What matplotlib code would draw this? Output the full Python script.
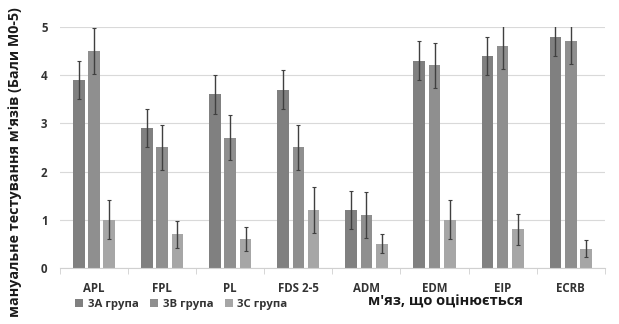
import matplotlib
matplotlib.use("Agg")
import matplotlib.pyplot as plt
from matplotlib import font_manager as fm
import numpy as np

bold_path = None
for f in fm.fontManager.ttflist:
    if f.fname.endswith("OpenSans-Bold.ttf"):
        bold_path = f.fname
        break
if bold_path:
    BP = lambda size: fm.FontProperties(fname=bold_path, size=size)
else:
    BP = lambda size: fm.FontProperties(family="DejaVu Sans", weight="bold", size=size)

categories = ["APL", "FPL", "PL", "FDS 2-5", "ADM", "EDM", "EIP", "ECRB"]
series_names = ["3A група", "3B група", "3C група"]
vals_a = [3.9, 2.9, 3.6, 3.7, 1.2, 4.3, 4.4, 4.8]
vals_b = [4.5, 2.5, 2.7, 2.5, 1.1, 4.2, 4.6, 4.7]
vals_c = [1.0, 0.7, 0.6, 1.2, 0.5, 1.0, 0.8, 0.4]
err_a = [0.4, 0.4, 0.4, 0.4, 0.4, 0.4, 0.4, 0.4]
err_b = [0.47, 0.47, 0.47, 0.47, 0.47, 0.47, 0.47, 0.47]
err_c = [0.4, 0.28, 0.25, 0.48, 0.2, 0.4, 0.32, 0.17]
colors = ["#808080", "#8f8f8f", "#a6a6a6"]

fig = plt.figure(figsize=(6.19, 3.24), dpi=100)
ax = fig.add_axes([0.097, 0.173, 0.880, 0.744])

x = np.arange(len(categories))
w = 0.172
step = 0.224
for i, (v, e, c, n) in enumerate(zip([vals_a, vals_b, vals_c], [err_a, err_b, err_c], colors, series_names)):
    ax.bar(x + (i - 1) * step, v, width=w, color=c, label=n, zorder=2,
           yerr=e, error_kw=dict(ecolor="#404040", elinewidth=1, capsize=1.5, capthick=0.8, zorder=3))

ax.set_ylim(0, 5)
ax.set_xlim(-0.5, len(categories) - 0.5)
ax.set_yticks([0, 1, 2, 3, 4, 5])
ax.yaxis.grid(True, color="#d9d9d9", linewidth=0.8, zorder=0)
ax.set_axisbelow(True)
for s in ["top", "right", "left"]:
    ax.spines[s].set_visible(False)
ax.spines["bottom"].set_color("#d0d0d0")
ax.set_xticks(x)
ax.set_xticklabels(categories, color="#333333")
for t in ax.get_xticklabels():
    t.set_fontproperties(BP(8.3))
ax.set_xticks(np.arange(len(categories) + 1) - 0.5, minor=True)
ax.tick_params(axis="x", which="major", length=0, pad=10)
ax.tick_params(axis="x", which="minor", length=4, color="#d0d0d0")
ax.tick_params(axis="y", length=0, labelcolor="#333333", pad=9)
for t in ax.get_yticklabels():
    t.set_fontproperties(BP(8.3))

fig.text(0.024, 0.5, "мануальне тестування м'язів (Бали М0-5)", rotation=90,
         ha="center", va="center", fontproperties=BP(10.3), color="#1a1a1a")
fig.text(0.72, 0.068, "м'яз, що оцінюється", ha="center", va="center",
         fontproperties=BP(10.5), color="#1a1a1a")

leg = fig.legend(loc="center left", bbox_to_anchor=(0.105, 0.059), ncol=3, frameon=False,
                 handlelength=0.7, handleheight=0.7, handletextpad=0.4,
                 columnspacing=1.0, prop=BP(8.2))
for t in leg.get_texts():
    t.set_color("#333333")

fig.savefig("out.png", dpi=100)
